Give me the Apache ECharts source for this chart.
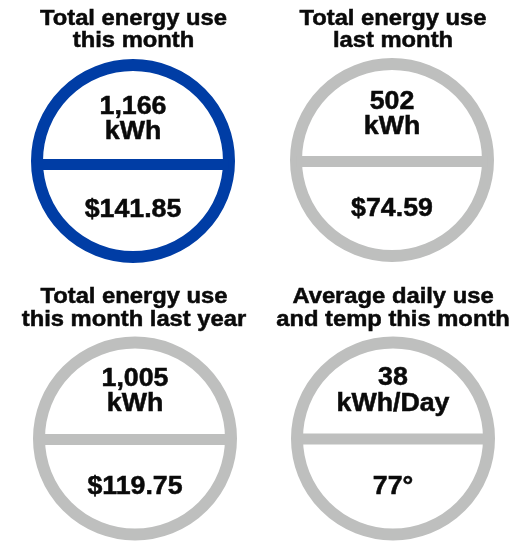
<!DOCTYPE html>
<html>
<head>
<meta charset="utf-8">
<script src="https://cdn.jsdelivr.net/npm/echarts@6/dist/echarts.min.js"></script>
<style>html,body{margin:0;padding:0;background:#fff}#c{width:524px;height:544px}</style>
</head>
<body>
<div id="c"></div>
<script>
var titleLine1 = ['Total energy use', 'Total energy use', 'Total energy use', 'Average daily use'];
var titleLine2 = ['this month', 'last month', 'this month last year', 'and temp this month'];
var topValues = ['1,166', '502', '1,005', '38'];
var units = ['kWh', 'kWh', 'kWh', 'kWh/Day'];
var bottomValues = ['$141.85', '$74.59', '$119.75', '77°'];
var highlighted = [true, false, false, false];

// layout (pixels)
var centers = [[133, 161], [392, 160], [135, 438.5], [393, 438.5]];
var lineY = [164.5, 161.5, 439.5, 439];
var titleY = [[18.5, 41], [18.5, 41], [296.5, 319.5], [296.5, 319.5]];
var titleX = [133.5, 393, 134, 393];
var valueY = [[107.5, 132.5, 210.5], [102.5, 127.5, 209.5], [379.5, 404.5, 487.5], [378, 404, 487.5]];

var BLUE = '#003DA5', GRAY = '#BEBFBE', TXT = '#0a0a0a';
var FONT = '"Liberation Sans", Arial, sans-serif';
var R = 96, STROKE = 12, LINEW = 11;

function txt(x, y, s, size, sx) {
  return {
    type: 'text', x: x, y: y, scaleX: sx, originX: 0, originY: 0,
    style: { text: s, fill: TXT, stroke: TXT, lineWidth: 0.5, font: 'bold ' + size + 'px ' + FONT, align: 'center', verticalAlign: 'middle' }
  };
}

var graphic = [];
for (var i = 0; i < 4; i++) {
  var col = highlighted[i] ? BLUE : GRAY;
  var cx = centers[i][0], cy = centers[i][1];
  graphic.push({ type: 'circle', shape: { cx: cx, cy: cy, r: R }, style: { fill: 'none', stroke: col, lineWidth: STROKE } });
  var dy = lineY[i] - cy;
  var half = Math.sqrt(R * R - dy * dy);
  graphic.push({ type: 'line', shape: { x1: cx - half, y1: lineY[i], x2: cx + half, y2: lineY[i] }, style: { stroke: col, lineWidth: LINEW } });
  graphic.push(txt(titleX[i], titleY[i][0], titleLine1[i], 22, 1.08));
  graphic.push(txt(titleX[i], titleY[i][1], titleLine2[i], 22, 1.08));
  graphic.push(txt(cx, valueY[i][0], topValues[i], 25, 1.07));
  graphic.push(txt(cx, valueY[i][1], units[i], 25, 1.07));
  graphic.push(txt(cx, valueY[i][2], bottomValues[i], 25, 1.07));
}

var chart = echarts.init(document.getElementById('c'), null, { renderer: 'canvas' });
chart.setOption({ backgroundColor: '#fff', animation: false, graphic: graphic });
</script>
</body>
</html>
